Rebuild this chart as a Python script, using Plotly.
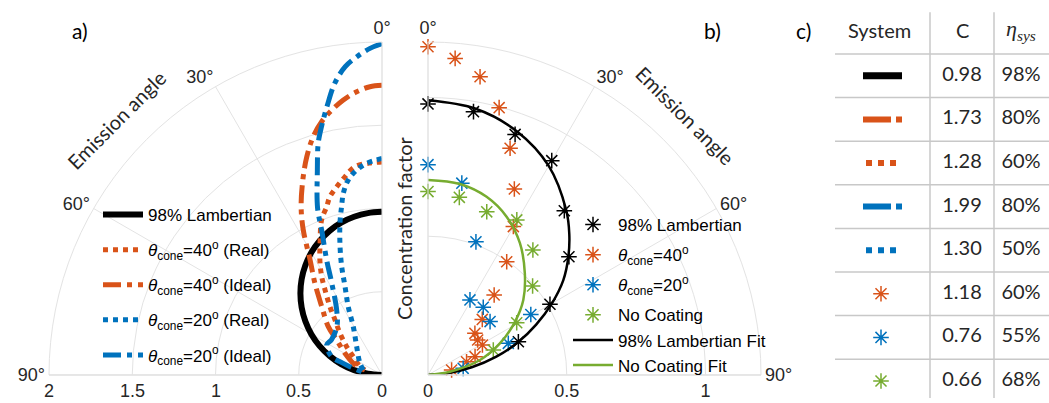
import plotly.graph_objects as go

W, H = 1049, 403
ORANGE = '#D95319'
BLUE = '#0072BD'
GREEN = '#77AC30'
BLACK = '#000000'
GRID = '#e3e3e3'
TXT = '#262626'
SANS = 'Liberation Sans, Arial, sans-serif'
CAL = 'Lato, Open Sans, sans-serif'

# ---------------- Panel a: simulated distributions ----------------
lamb_a_theta = [0, 5, 10, 15, 20, 25, 30, 35, 40, 45, 50, 55, 60, 65, 70, 75, 80, 85, 90]
lamb_a_r = [0.98, 0.976, 0.965, 0.947, 0.921, 0.888, 0.849, 0.803, 0.751, 0.693,
            0.630, 0.562, 0.490, 0.414, 0.335, 0.254, 0.170, 0.085, 0.0]

real40_theta = [0, 3.5, 7.4, 10.6, 13.5, 16.3, 18.2, 21.3, 25.0, 28.7, 31.5, 33.8,
                37.3, 40.5, 45.2, 51.3, 57.5, 69.3, 73.6]
real40_r = [1.28, 1.275, 1.262, 1.211, 1.163, 1.115, 1.064, 0.999, 0.88, 0.776, 0.693,
            0.615, 0.516, 0.434, 0.356, 0.272, 0.204, 0.141, 0.106]

ideal40_theta = [0, 2.4, 5.1, 8.0, 10.7, 13.4, 16.1, 19.0, 22.1, 25.7, 28.5, 32.0,
                 36.2, 41.4, 48.0, 52.3, 59.6, 67.8, 75.0]
ideal40_r = [1.74, 1.733, 1.708, 1.668, 1.62, 1.564, 1.49, 1.387, 1.264, 1.12, 0.991,
             0.815, 0.682, 0.547, 0.434, 0.344, 0.258, 0.186, 0.116]

real20_theta = [0, 4.1, 7.0, 9.8, 12.0, 13.5, 15.5, 18.1, 20.4, 22.7, 26.3, 30.7,
                41.8, 62.0, 75.0]
real20_r = [1.30, 1.275, 1.241, 1.189, 1.116, 1.04, 0.945, 0.811, 0.694, 0.575, 0.458,
            0.338, 0.228, 0.15, 0.116]

ideal20_theta = [0, 2.1, 4.5, 6.8, 9.2, 11.6, 13.7, 15.4, 17.5, 21.1, 22.6, 25.7,
                 28.7, 34.9, 42.5, 55.0, 61.5, 70.0, 72.4, 75.5, 80.8]
ideal20_r = [1.99, 1.963, 1.918, 1.865, 1.775, 1.645, 1.535, 1.443, 1.291, 1.075,
             0.943, 0.766, 0.628, 0.476, 0.40, 0.37, 0.378, 0.321, 0.265, 0.199, 0.124]

radial_a_ticks = [0, 0.5, 1, 1.5, 2]
radial_a_text = ['0', '0.5', '1', '1.5', '2']

# ---------------- Panel b: measured distributions ----------------
meas_lamb_theta = [0, 9.8, 19.9, 30.0, 39.7, 50.0, 59.9, 69.8]
meas_lamb_r = [0.977, 0.963, 0.922, 0.892, 0.769, 0.663, 0.508, 0.347]

meas40_theta = [0, 4.9, 9.9, 14.9, 19.9, 24.9, 29.9, 34.8, 39.6, 44.3, 48.4, 54.8,
                61.1, 68.7, 71.0, 78.0]
meas40_r = [1.183, 1.145, 1.091, 0.997, 0.869, 0.739, 0.617, 0.497, 0.374, 0.28,
            0.226, 0.219, 0.224, 0.182, 0.147, 0.087]

meas20_theta = [0, 10.0, 19.8, 29.2, 39.2, 49.3, 59.5, 68.5, 79.3]
meas20_r = [0.758, 0.702, 0.51, 0.31, 0.315, 0.295, 0.43, 0.311, 0.129]

meas_nc_theta = [0, 10.0, 19.8, 29.8, 40.0, 49.6, 59.5, 69.0]
meas_nc_r = [0.661, 0.65, 0.625, 0.644, 0.588, 0.495, 0.371, 0.252]

fit_lamb_theta = [0, 10, 20, 30, 40, 45, 50, 55, 60, 65, 70, 75, 80, 85, 90]
fit_lamb_r = [0.99, 0.975, 0.935, 0.87, 0.775, 0.72, 0.66, 0.595, 0.515, 0.43,
              0.345, 0.255, 0.16, 0.07, 0.0]

fit_nc_theta = [0, 9.5, 18.2, 26.4, 34.9, 43.6, 51.8, 58.5, 66.2, 73.9, 81.5, 90]
fit_nc_r = [0.703, 0.698, 0.676, 0.637, 0.579, 0.506, 0.437, 0.368, 0.284, 0.195,
            0.08, 0.0]

# ---------------- Panel c: table ----------------
table_header = ['System', 'C', '<i>η</i><sub><i>sys</i></sub>']
table_C = ['0.98', '1.73', '1.28', '1.99', '1.30', '1.18', '0.76', '0.66']
table_eta = ['98%', '80%', '60%', '80%', '50%', '60%', '55%', '68%']

# legend labels
th = '<i>θ</i><sub>cone</sub>'
lab_a = ['98% Lambertian', th + '=40<sup>o</sup> (Real)', th + '=40<sup>o</sup> (Ideal)',
         th + '=20<sup>o</sup> (Real)', th + '=20<sup>o</sup> (Ideal)']
lab_b = ['98% Lambertian', th + '=40<sup>o</sup>', th + '=20<sup>o</sup>', 'No Coating',
         '98% Lambertian Fit', 'No Coating Fit']

DASHDOT = '18px,6px,5px,6px'

# polar a geometry (layout constants, pixels)
PA_X0, PA_X1 = 49, 382       # domain of polar a (center at right end)
POL_Y0, POL_Y1 = 28, 361     # vertical domain (from bottom)
PA_RMAX = 2.0

fig = go.Figure()

# panel a traces
a_series = [
    (lamb_a_theta, lamb_a_r, BLACK, 'solid', 6),
    (real40_theta, real40_r, ORANGE, 'dot', 5),
    (ideal40_theta, ideal40_r, ORANGE, DASHDOT, 5),
    (real20_theta, real20_r, BLUE, 'dot', 5),
    (ideal20_theta, ideal20_r, BLUE, DASHDOT, 5),
]
for i, ((t, r, c, d, w), name) in enumerate(zip(a_series, lab_a)):
    fig.add_trace(go.Scatterpolar(theta=t, r=r, mode='lines', name=name,
                                  line=dict(color=c, dash=d, width=w, shape='spline'),
                                  legendgroup='a%d' % i,
                                  subplot='polar', legend='legend', hoverinfo='skip'))

# panel b traces
b_markers = [
    (meas_lamb_theta, meas_lamb_r, BLACK, 'b0'),
    (meas40_theta, meas40_r, ORANGE, 'b1'),
    (meas20_theta, meas20_r, BLUE, 'b2'),
    (meas_nc_theta, meas_nc_r, GREEN, 'b3'),
]
for (t, r, c, g), name in zip(b_markers, lab_b[:4]):
    fig.add_trace(go.Scatterpolar(theta=t, r=r, mode='markers', name=name,
                                  marker=dict(symbol='asterisk-open', size=13, color=c,
                                              line=dict(color=c, width=1.5)),
                                  legendgroup=g,
                                  subplot='polar2', legend='legend2', hoverinfo='skip'))
for (t, r, c), name in zip([(fit_lamb_theta, fit_lamb_r, BLACK),
                            (fit_nc_theta, fit_nc_r, GREEN)], lab_b[4:]):
    fig.add_trace(go.Scatterpolar(theta=t, r=r, mode='lines', name=name,
                                  line=dict(color=c, width=2.5, shape='spline'),
                                  legendgroup='b3',
                                  subplot='polar2', legend='legend2', hoverinfo='skip'))

# ---------------- table on a pixel-like cartesian grid ----------------
X_LEFT, X_COL1, X_COL2, X_RIGHT = 835, 930, 994, 1049
X_SYS, X_C, X_ETA = 881, 962, 1021
ROW_TOP, ROW_H = 54, 43.6
y_lo = (0 - ROW_TOP) / ROW_H + 0.5
y_hi = (H - ROW_TOP) / ROW_H + 0.5
rows = list(range(1, len(table_C) + 1))

row_styles = [
    ('line', BLACK, 'solid', 7),
    ('line', ORANGE, '28px,5px,6px,100px', 6),
    ('line', ORANGE, 'dot', 6),
    ('line', BLUE, '28px,5px,6px,100px', 6),
    ('line', BLUE, 'dot', 6),
    ('marker', ORANGE, None, None),
    ('marker', BLUE, None, None),
    ('marker', GREEN, None, None),
]
for k, (kind, c, d, w) in zip(rows, row_styles):
    if kind == 'line':
        x0, x1 = (863, 902) if d != 'dot' else (866, 898)
        fig.add_trace(go.Scatter(x=[x0, x1], y=[k, k], mode='lines',
                                 line=dict(color=c, dash=d, width=w),
                                 showlegend=False, hoverinfo='skip', xaxis='x', yaxis='y'))
    else:
        fig.add_trace(go.Scatter(x=[X_SYS], y=[k], mode='markers',
                                 marker=dict(symbol='asterisk-open', size=13, color=c,
                                             line=dict(color=c, width=1.5)),
                                 showlegend=False, hoverinfo='skip', xaxis='x', yaxis='y'))

fig.add_trace(go.Scatter(x=[X_C] * len(rows), y=rows, mode='text', text=table_C,
                         textfont=dict(family=CAL, size=20, color=TXT),
                         showlegend=False, hoverinfo='skip'))
fig.add_trace(go.Scatter(x=[X_ETA] * len(rows), y=rows, mode='text', text=table_eta,
                         textfont=dict(family=CAL, size=20, color=TXT),
                         showlegend=False, hoverinfo='skip'))

shapes = []
for k in range(len(rows)):
    shapes.append(dict(type='line', xref='x', yref='y', x0=X_LEFT, x1=X_RIGHT,
                       y0=k + 0.5, y1=k + 0.5, line=dict(color='#c8c8c8', width=1.5)))
for xv in (X_COL1, X_COL2):
    shapes.append(dict(type='line', xref='x', yref='y', x0=xv, x1=xv,
                       y0=-0.46, y1=8.39, line=dict(color='#c8c8c8', width=1.5)))


def ann(text, x, y, size, family=CAL, angle=0, color=TXT, ref='paper'):
    if ref == 'paper':
        return dict(text=text, x=x / W, y=1 - y / H, xref='paper', yref='paper',
                    showarrow=False, textangle=angle, xanchor='center', yanchor='middle',
                    font=dict(family=family, size=size, color=color))
    return dict(text=text, x=x, y=y, xref='x', yref='y', showarrow=False,
                xanchor='center', yanchor='middle',
                font=dict(family=family, size=size, color=color))


annotations = [
    ann('System', X_SYS - 2, -0.05, 20, ref='x'),
    ann('C', X_C, -0.05, 20, ref='x'),
    ann(table_header[2], X_ETA, -0.05, 22, family='Liberation Serif, DejaVu Serif, serif', ref='x'),
    ann('a)', 80, 30, 21, color=BLACK),
    ann('b)', 712, 30, 21, color=BLACK),
    ann('c)', 803, 30, 21, color=BLACK),
    ann('Emission angle', 116, 120, 20, angle=-45),
    ann('Emission angle', 685, 115, 20, angle=45),
    ann('Concentration factor', 404, 228, 20, angle=-90),
]
# radial tick labels of panel a (centred under ticks; plotly start-anchors flipped labels)
a_scale = (PA_X1 - PA_X0) / PA_RMAX
for v, t in zip(radial_a_ticks, radial_a_text):
    annotations.append(dict(text=t, x=(PA_X1 - v * a_scale) / W, y=0, xref='paper',
                            yref='paper', xanchor='center', yanchor='bottom', yshift=0,
                            showarrow=False, font=dict(family=SANS, size=18, color=TXT)))

ang_ticks = [0, 30, 60, 90]
ang_text = ['0°', '30°', '60°', '90°']
tickfont = dict(family=SANS, size=18, color=TXT)

fig.update_layout(
    width=W, height=H, margin=dict(l=0, r=0, t=0, b=0),
    paper_bgcolor='white', plot_bgcolor='white',
    showlegend=True,
    polar=dict(
        domain=dict(x=[PA_X0 / W, PA_X1 / W], y=[POL_Y0 / H, POL_Y1 / H]),
        sector=[90, 180], bgcolor='white',
        angularaxis=dict(rotation=90, direction='counterclockwise', tickvals=ang_ticks,
                         ticktext=ang_text, ticks='', showline=True, linecolor=GRID,
                         gridcolor=GRID, tickfont=tickfont),
        radialaxis=dict(range=[0, PA_RMAX], tickvals=radial_a_ticks, showticklabels=False,
                        angle=180, ticks='', showline=True, linecolor=GRID,
                        gridcolor=GRID),
    ),
    polar2=dict(
        domain=dict(x=[428 / W, 761 / W], y=[POL_Y0 / H, POL_Y1 / H]),
        sector=[0, 90], bgcolor='white',
        angularaxis=dict(rotation=90, direction='clockwise', tickvals=ang_ticks,
                         ticktext=ang_text, ticks='', showline=True, linecolor=GRID,
                         gridcolor=GRID, tickfont=tickfont),
        radialaxis=dict(range=[0, 1.2], tickvals=[0, 0.5, 1],
                        ticktext=['0', '0.5', '1'], angle=0, tickangle=0,
                        side='clockwise', ticks='', showline=True, linecolor=GRID,
                        gridcolor=GRID, tickfont=tickfont),
    ),
    xaxis=dict(domain=[0, 1], range=[0, W], visible=False, fixedrange=True),
    yaxis=dict(domain=[0, 1], range=[y_hi, y_lo], visible=False, fixedrange=True),
    legend=dict(x=98 / W, y=1 - 197 / H, xanchor='left', yanchor='top',
                bgcolor='rgba(0,0,0,0)', font=dict(family=SANS, size=17, color=BLACK),
                itemwidth=40, tracegroupgap=10, traceorder='grouped'),
    legend2=dict(x=568 / W, y=1 - 207 / H, xanchor='left', yanchor='top',
                 bgcolor='rgba(0,0,0,0)', font=dict(family=SANS, size=17, color=BLACK),
                 itemwidth=40, tracegroupgap=5, traceorder='grouped'),
    shapes=shapes,
    annotations=annotations,
)

fig.write_html('out.html')
